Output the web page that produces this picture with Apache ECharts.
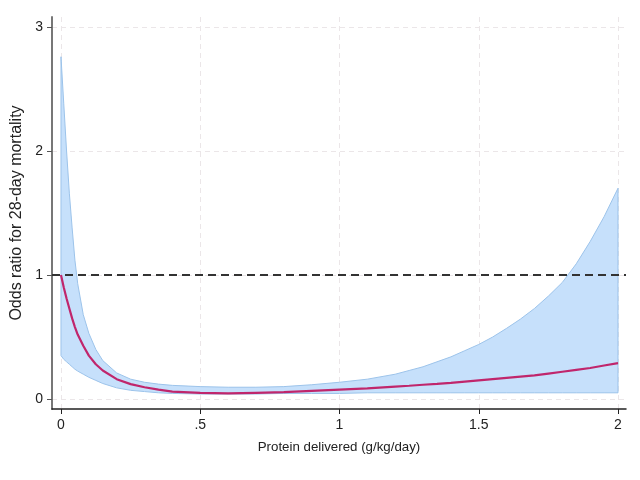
<!DOCTYPE html>
<html>
<head>
<meta charset="utf-8">
<script src="https://cdn.jsdelivr.net/npm/echarts@6/dist/echarts.min.js"></script>
<style>
  html, body { margin: 0; padding: 0; background: #fff; }
  #chart { width: 640px; height: 480px; }
</style>
</head>
<body>
<div id="chart"></div>
<script>
// protein delivered (g/kg/day)
var protein = [0, 0.01, 0.02, 0.03, 0.04, 0.05, 0.06, 0.08, 0.1, 0.125, 0.15, 0.2, 0.25, 0.3, 0.35, 0.4,
  0.5, 0.6, 0.7, 0.8, 0.9, 1.0, 1.1, 1.2, 1.25, 1.3, 1.35, 1.4, 1.45, 1.5, 1.55, 1.6, 1.65, 1.7, 1.75,
  1.8, 1.85, 1.9, 1.95, 2.0]
// odds ratio for 28-day mortality
var oddsRatio = [1.0, 0.90, 0.81, 0.73, 0.65, 0.58, 0.52, 0.43, 0.35, 0.28, 0.23, 0.16, 0.12, 0.095, 0.075, 0.06,
  0.05, 0.045, 0.05, 0.055, 0.065, 0.075, 0.085, 0.10, 0.107, 0.115, 0.122, 0.13, 0.14, 0.15, 0.16, 0.17, 0.18, 0.19, 0.205,
  0.22, 0.235, 0.25, 0.27, 0.29]
// 95% CI
var ciLower = [0.35, 0.32, 0.30, 0.28, 0.26, 0.24, 0.225, 0.20, 0.175, 0.15, 0.125, 0.09, 0.07, 0.06, 0.05, 0.045,
  0.04, 0.04, 0.04, 0.045, 0.045, 0.045, 0.05, 0.05, 0.05, 0.05, 0.05, 0.05, 0.05, 0.05, 0.05, 0.05, 0.05, 0.05, 0.05,
  0.05, 0.05, 0.05, 0.05, 0.05]
var ciUpper = [2.76, 2.38, 2.0, 1.66, 1.38, 1.12, 0.93, 0.68, 0.53, 0.40, 0.31, 0.21, 0.16, 0.135, 0.12, 0.11,
  0.10, 0.095, 0.095, 0.10, 0.115, 0.135, 0.16, 0.20, 0.23, 0.26, 0.30, 0.34, 0.39, 0.44, 0.50, 0.57, 0.645, 0.73, 0.83,
  0.94, 1.09, 1.27, 1.47, 1.70]
var xTicks = [0, 0.5, 1, 1.5, 2]
var yTicks = [0, 1, 2, 3]

var chart = echarts.init(document.getElementById('chart'))

var pairs = function (ys) {
  return protein.map(function (x, i) { return [x, ys[i]] })
}

// confidence band: one polygon, upper edge forward then lower edge back
var bandData = protein.map(function (x, i) { return [x, ciLower[i], ciUpper[i]] })
function renderBand(params, api) {
  if (params.dataIndex !== 0) return
  var pts = []
  for (var i = 0; i < bandData.length; i++) {
    pts.push(api.coord([bandData[i][0], bandData[i][2]]))
  }
  for (var j = bandData.length - 1; j >= 0; j--) {
    pts.push(api.coord([bandData[j][0], bandData[j][1]]))
  }
  return {
    type: 'polygon',
    shape: { points: pts },
    style: { fill: '#c6e0fb', stroke: '#9cc3ea', lineWidth: 1 }
  }
}

var font = 'Liberation Sans, Arial, sans-serif'

chart.setOption({
  animation: false,
  grid: {
    left: 52,
    right: 14,
    top: 17,
    bottom: 71
  },
  xAxis: {
    type: 'value',
    min: -0.0323,
    max: 2.0287,
    name: 'Protein delivered (g/kg/day)',
    nameLocation: 'middle',
    nameGap: 32,
    nameTextStyle: { fontFamily: font, fontSize: 13.3, color: '#222' },
    axisLine: { show: true, onZero: false, lineStyle: { color: '#222', width: 1.5 } },
    axisTick: { show: true, length: 5, customValues: xTicks, lineStyle: { color: '#222' } },
    axisLabel: {
      customValues: xTicks,
      margin: 9,
      fontFamily: font,
      fontSize: 14,
      color: '#222',
      formatter: function (v) { return v === 0.5 ? '.5' : String(v) }
    },
    splitLine: { show: true, lineStyle: { color: '#ebe6e8', type: [5, 4], width: 1 } }
  },
  yAxis: {
    type: 'value',
    min: -0.0806,
    max: 3.0806,
    name: 'Odds ratio for 28-day mortality',
    nameLocation: 'middle',
    nameGap: 22,
    nameTextStyle: { fontFamily: font, fontSize: 16, color: '#222' },
    axisLine: { show: true, onZero: false, lineStyle: { color: '#777', width: 2 } },
    axisTick: { show: true, length: 5, customValues: yTicks, lineStyle: { color: '#555' } },
    axisLabel: {
      customValues: yTicks,
      margin: 9,
      fontFamily: font,
      fontSize: 14,
      color: '#222'
    },
    splitLine: { show: true, lineStyle: { color: '#ebe6e8', type: [5, 4], width: 1 } }
  },
  series: [
    {
      name: '95% CI',
      type: 'custom',
      data: bandData,
      renderItem: renderBand,
      encode: { x: 0, y: [1, 2] },
      clip: true,
      z: 2
    },
    {
      name: 'OR',
      type: 'line',
      data: pairs(oddsRatio),
      showSymbol: false,
      lineStyle: { color: '#c0266c', width: 2.2 },
      z: 4,
      markLine: {
        silent: true,
        symbol: 'none',
        label: { show: false },
        lineStyle: { color: '#333', type: [8, 5], width: 1.8 },
        data: [{ yAxis: 1 }]
      }
    }
  ]
})
</script>
</body>
</html>
